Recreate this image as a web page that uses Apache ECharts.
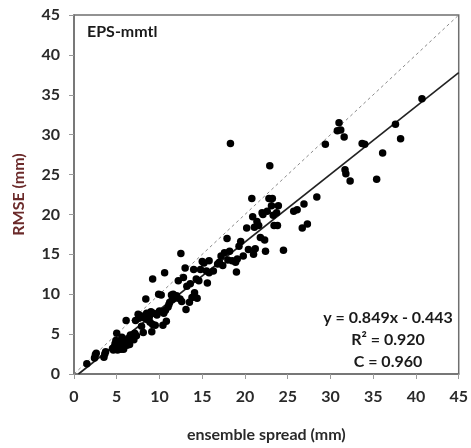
<!DOCTYPE html>
<html>
<head>
<meta charset="utf-8">
<script src="https://cdn.jsdelivr.net/npm/echarts@6/dist/echarts.min.js"></script>
<style>html,body{margin:0;padding:0;background:#fff;}#c{width:471px;height:448px;}</style>
</head>
<body>
<div id="c"></div>
<script>
const xTicks = [0, 5, 10, 15, 20, 25, 30, 35, 40, 45];
const yTicks = [0, 5, 10, 15, 20, 25, 30, 35, 40, 45];
const spread = [
  1.5,2.4,2.5,2.6,3.5,3.6,3.7,4.6,4.7,4.8,4.9,5.0,5.1,5.2,5.3,5.4,5.5,5.6,5.7,5.9,6.0,6.1,6.2,6.4,6.5,6.6,6.8,7.0,7.1,7.2,7.3,7.5,7.8,7.9,8.1,
  8.3,8.4,8.5,8.6,8.7,8.9,9.0,9.1,9.2,9.2,9.3,9.5,9.9,10.2,10.3,10.4,10.5,10.6,10.7,10.8,11.0,11.2,11.4,11.5,11.6,11.8,12.2,12.4,12.5,12.6,12.8,13.0,13.1,13.2,13.5,13.8,14.0,14.1,14.3,14.4,14.6,14.8,15.0,15.2,15.5,15.6,15.8,15.8,16.3,
  17.0,17.2,17.4,17.6,17.9,18.0,18.2,18.3,18.5,18.9,19.0,19.1,19.3,19.5,19.8,20.2,20.4,20.8,20.9,21.0,21.2,21.4,21.6,21.8,22.0,22.3,22.4,22.6,22.8,22.9,23.1,23.2,23.3,23.4,23.7,23.9,23.8,24.5,
  25.7,26.1,26.7,26.9,27.3,28.4,29.4,30.8,31.0,31.2,31.6,31.7,31.8,32.3,33.7,34.0,35.4,36.1,37.6,38.2,40.7,
  4.5,5.8,6.3,7.6,9.7,10.0,12.0,16.8,21.1,22.1,5.2,6.9,8.8,11.1,13.6
];
const rmse = [
  1.3,2.0,2.4,2.6,2.1,2.5,2.8,3.0,3.4,3.8,4.2,5.1,3.0,3.3,3.6,4.0,3.1,4.6,3.5,3.8,4.2,6.7,3.6,4.4,3.7,4.9,4.6,4.3,5.1,6.7,4.8,7.5,7.3,6.0,5.2,
  7.0,9.4,7.6,6.8,7.3,6.5,7.8,5.3,6.2,11.9,7.6,6.1,10.0,9.9,7.8,6.1,7.6,12.7,8.0,6.6,8.4,9.0,9.9,9.3,10.0,9.5,11.7,9.4,15.1,9.1,12.1,13.3,8.1,11.0,9.0,9.6,13.1,10.2,11.9,9.5,11.7,13.1,14.1,13.9,12.9,11.4,14.2,12.7,12.9,
  14.0,14.8,13.6,15.2,17.0,14.3,15.4,28.9,14.2,14.0,12.8,14.4,16.0,16.6,14.8,18.3,15.6,22.0,19.7,15.0,15.7,19.1,18.6,17.1,20.2,16.8,15.4,20.4,22.0,26.1,21.1,22.0,19.9,18.6,20.2,21.1,18.6,15.5,
  20.4,20.6,18.3,21.3,18.8,22.2,28.8,30.5,31.5,30.6,29.7,25.6,25.1,24.2,28.9,28.8,24.4,27.7,31.3,29.5,34.5,
  3.2,3.1,4.0,7.0,7.4,7.9,9.8,13.8,18.4,20.0,3.4,4.7,7.1,8.7,11.3
];
const fitSlope = 0.849;
const fitIntercept = -0.443;
const axisMax = 45;

const points = spread.map((x, i) => [x, rmse[i]]);
const fitLine = [[-fitIntercept / fitSlope, 0], [axisMax, fitSlope * axisMax + fitIntercept]];
const oneToOne = [[0, 0], [axisMax, axisMax]];

const FONT = 'Lato, "Open Sans", sans-serif';
const chart = echarts.init(document.getElementById('c'));
chart.setOption({
  animation: false,
  backgroundColor: '#fff',
  grid: { left: 74, right: 10, top: 15, bottom: 70, show: true, borderColor: '#6f6f6f', borderWidth: 1.5, backgroundColor: 'transparent' },
  xAxis: {
    type: 'value', min: 0, max: 45, interval: 5,
    name: 'ensemble spread (mm)', nameLocation: 'middle', nameGap: 53,
    nameTextStyle: { fontFamily: FONT, fontWeight: 'bold', fontSize: 16, color: '#2a2a2a' },
    axisLine: { show: true, lineStyle: { color: '#6f6f6f', width: 1.5 } },
    axisTick: { show: true, inside: false, length: 5, lineStyle: { color: '#9a9a9a' } },
    axisLabel: { fontFamily: FONT, fontWeight: 'bold', fontSize: 16, color: '#2a2a2a', margin: 15,
      formatter: v => xTicks.includes(v) ? String(v) : '' },
    splitLine: { show: false }
  },
  yAxis: {
    type: 'value', min: 0, max: 45, interval: 5,
    name: 'RMSE (mm)', nameLocation: 'middle', nameGap: 47,
    nameTextStyle: { fontFamily: FONT, fontWeight: 'bold', fontSize: 16, color: '#6b2a2a' },
    axisLine: { show: true, lineStyle: { color: '#6f6f6f', width: 1.5 } },
    axisTick: { show: true, inside: false, length: 5, lineStyle: { color: '#9a9a9a' } },
    axisLabel: { fontFamily: FONT, fontWeight: 'bold', fontSize: 16, color: '#2a2a2a', margin: 14,
      formatter: v => yTicks.includes(v) ? String(v) : '' },
    splitLine: { show: false }
  },
  series: [
    { type: 'line', data: oneToOne, symbol: 'none', silent: true,
      lineStyle: { color: '#8a8a8a', width: 1, type: [3, 3] }, z: 2 },
    { type: 'line', data: fitLine, symbol: 'none', silent: true,
      lineStyle: { color: '#222', width: 1.6 }, z: 3 },
    { type: 'scatter', data: points, symbol: 'circle', symbolSize: 7.5,
      itemStyle: { color: '#000', opacity: 1 }, z: 4 }
  ],
  graphic: [
    { type: 'text', left: 87, top: 24, style: { text: 'EPS-mmtl', font: 'bold 16px ' + FONT, fill: '#1a1a1a' } },
    { type: 'text', x: 388, y: 318, style: { text: 'y = 0.849x - 0.443', font: 'bold 16px ' + FONT, fill: '#1a1a1a', align: 'center', verticalAlign: 'middle' } },
    { type: 'text', x: 388, y: 340, style: { text: 'R² = 0.920', font: 'bold 16px ' + FONT, fill: '#1a1a1a', align: 'center', verticalAlign: 'middle' } },
    { type: 'text', x: 388, y: 362, style: { text: 'C = 0.960', font: 'bold 16px ' + FONT, fill: '#1a1a1a', align: 'center', verticalAlign: 'middle' } }
  ]
});
</script>
</body>
</html>
